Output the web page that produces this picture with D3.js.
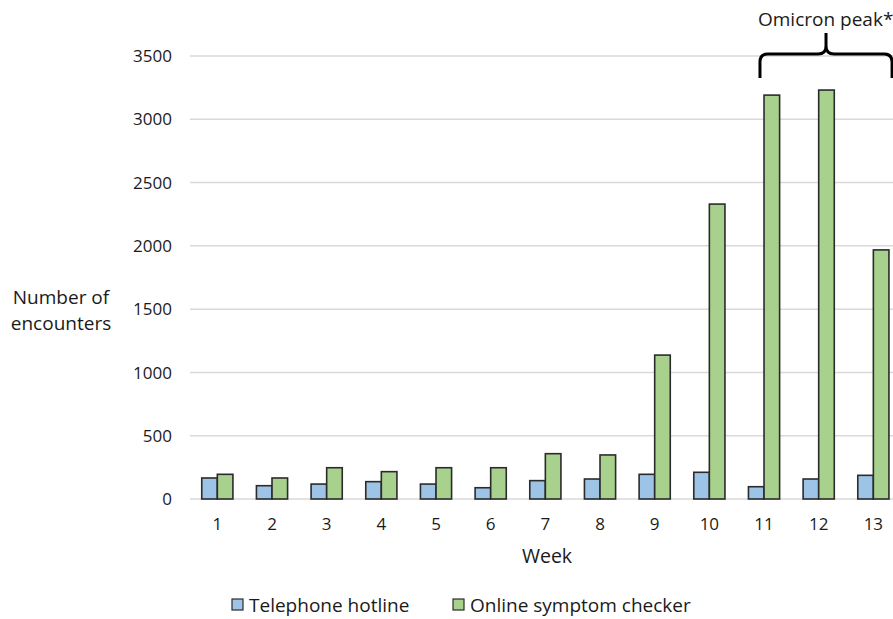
<!DOCTYPE html>
<html>
<head>
<meta charset="utf-8">
<script src="https://cdn.jsdelivr.net/npm/d3@7"></script>
<style>
  html, body { margin: 0; padding: 0; background: #fff; }
  svg { display: block; font-family: "Open Sans", "Noto Sans", sans-serif; }
</style>
</head>
<body>
<svg id="chart" width="893" height="619"></svg>
<script>
// Weekly encounters by channel
const weeks = ["1","2","3","4","5","6","7","8","9","10","11","12","13"];
const seriesNames = ["Telephone hotline", "Online symptom checker"];
const hotline = [166, 105, 118, 137, 118, 89, 145, 158, 195, 211, 97, 158, 187];
const checker = [195, 166, 247, 216, 247, 247, 358, 348, 1137, 2330, 3191, 3231, 1968];
const yTicks = [0, 500, 1000, 1500, 2000, 2500, 3000, 3500];
const peakLabel = "Omicron peak*";
const peakWeeks = ["11", "13"];

const colors = ["#9dc3e6", "#a9d18e"];
const textColor = "#1a1a1a";
const svg = d3.select("#chart");

const plot = { left: 190, right: 900.7, top: 56, bottom: 499 };

const x = d3.scaleBand()
  .domain(weeks)
  .range([plot.left, plot.right])
  .paddingInner(0.43)
  .paddingOuter(0.215);

const xSeries = d3.scaleBand()
  .domain(seriesNames)
  .range([0, x.bandwidth()]);

const y = d3.scaleLinear()
  .domain([0, 3500])
  .range([plot.bottom, plot.top]);

// Gridlines
svg.append("g")
  .selectAll("line")
  .data(yTicks)
  .join("line")
  .attr("x1", plot.left)
  .attr("x2", plot.right)
  .attr("y1", d => y(d))
  .attr("y2", d => y(d))
  .attr("stroke", "#d9d9d9")
  .attr("stroke-width", 1.5);

// Y tick labels
svg.append("g")
  .selectAll("text")
  .data(yTicks)
  .join("text")
  .attr("x", 172)
  .attr("y", d => y(d))
  .attr("dy", "0.36em")
  .attr("text-anchor", "end")
  .attr("font-size", 17)
  .attr("fill", textColor)
  .text(d => d);

// X tick labels
svg.append("g")
  .selectAll("text")
  .data(weeks)
  .join("text")
  .attr("x", d => x(d) + x.bandwidth() / 2)
  .attr("y", 524)
  .attr("dy", "0.36em")
  .attr("text-anchor", "middle")
  .attr("font-size", 17)
  .attr("fill", textColor)
  .text(d => d);

// Bars
const rows = weeks.map((w, i) => ({ week: w, values: [hotline[i], checker[i]] }));
const groups = svg.append("g")
  .selectAll("g")
  .data(rows)
  .join("g")
  .attr("transform", d => `translate(${x(d.week)},0)`);

groups.selectAll("rect")
  .data(d => d.values.map((v, j) => ({ name: seriesNames[j], value: v, idx: j })))
  .join("rect")
  .attr("x", d => xSeries(d.name))
  .attr("width", xSeries.bandwidth())
  .attr("y", d => y(d.value))
  .attr("height", d => y(0) - y(d.value))
  .attr("fill", d => colors[d.idx])
  .attr("stroke", "#2b2b2b")
  .attr("stroke-width", 1.6);

// Axis titles
svg.append("text")
  .attr("x", 547)
  .attr("y", 556)
  .attr("dy", "0.36em")
  .attr("text-anchor", "middle")
  .attr("font-size", 19.5)
  .attr("fill", textColor)
  .text("Week");

const yTitle = svg.append("text")
  .attr("text-anchor", "middle")
  .attr("font-size", 19)
  .attr("fill", textColor);
yTitle.append("tspan").attr("x", 61).attr("y", 304).text("Number of");
yTitle.append("tspan").attr("x", 61).attr("y", 330).text("encounters");

// Legend
const legend = svg.append("g");
const legendPos = [232, 453];
seriesNames.forEach((name, i) => {
  legend.append("rect")
    .attr("x", legendPos[i])
    .attr("y", 599)
    .attr("width", 11)
    .attr("height", 11)
    .attr("fill", colors[i])
    .attr("stroke", "#2b2b2b")
    .attr("stroke-width", 1.2);
  legend.append("text")
    .attr("x", legendPos[i] + 17)
    .attr("y", 605)
    .attr("dy", "0.36em")
    .attr("font-size", 19)
    .attr("fill", textColor)
    .text(name);
});

// Brace over the peak weeks
const bx0 = x(peakWeeks[0]) + x.bandwidth() * 0.37;
const bx1 = x(peakWeeks[1]) + x.bandwidth() * 1.1;
const bmid = (bx0 + bx1) / 2;
const yBot = 78, yBar = 54, yTip = 33, r = 8;
const brace = d3.path();
brace.moveTo(bx0, yBot);
brace.lineTo(bx0, yBar + r);
brace.quadraticCurveTo(bx0, yBar, bx0 + r, yBar);
brace.lineTo(bmid - r, yBar);
brace.quadraticCurveTo(bmid, yBar, bmid, yBar - r);
brace.lineTo(bmid, yTip);
brace.moveTo(bmid, yBar - r);
brace.quadraticCurveTo(bmid, yBar, bmid + r, yBar);
brace.lineTo(bx1 - r, yBar);
brace.quadraticCurveTo(bx1, yBar, bx1, yBar + r);
brace.lineTo(bx1, yBot);
svg.append("path")
  .attr("d", brace.toString())
  .attr("fill", "none")
  .attr("stroke", "#000")
  .attr("stroke-width", 3);

svg.append("text")
  .attr("x", 758)
  .attr("y", 19)
  .attr("dy", "0.36em")
  .attr("font-size", 19)
  .attr("fill", textColor)
  .text(peakLabel);
</script>
</body>
</html>
